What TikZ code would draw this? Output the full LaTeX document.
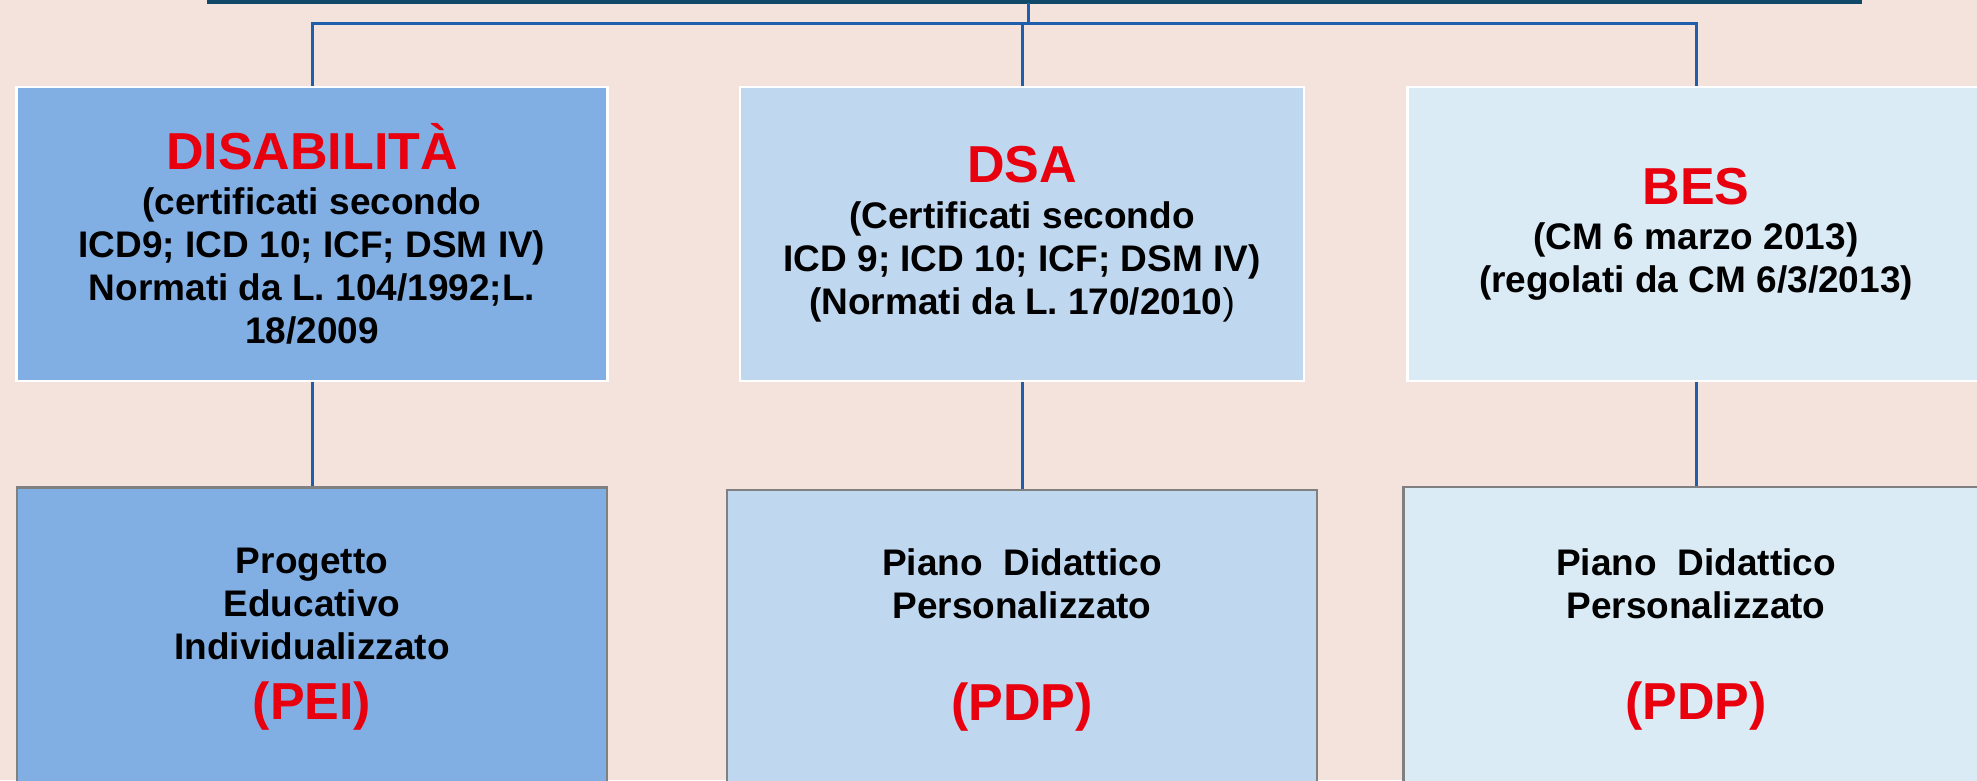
\documentclass[tikz,border=0pt]{standalone}
\usepackage{fontspec}
\setmainfont{Liberation Sans}

\definecolor{bgpink}{HTML}{F4E3DC}
\definecolor{disblue}{HTML}{82AFE3}
\definecolor{dsablue}{HTML}{C0D7F0}
\definecolor{besblue}{HTML}{DBEBF6}
\definecolor{linkblue}{HTML}{1E5EAA}
\definecolor{barteal}{HTML}{104868}
\definecolor{redtxt}{HTML}{E8000E}

\newcommand{\redtitle}[1]{{\color{redtxt}\fontsize{52}{52}\selectfont #1}}

\tikzset{
  catbox/.style={draw=white, line width=2.5pt, inner sep=0pt, align=center,
    minimum height=294pt, font=\fontsize{37}{43}\selectfont\bfseries},
  planbox/.style={draw=gray, line width=2.5pt, inner sep=0pt, align=center,
    font=\fontsize{37}{43}\selectfont\bfseries},
  link/.style={draw=linkblue, line width=3pt}
}

\begin{document}
\begin{tikzpicture}[x=1pt, y=-1pt]
      \useasboundingbox (0,0) rectangle (1977,780);
      \clip (0,0) rectangle (1977,780);
      \fill[bgpink] (0,0) rectangle (1977,780);

      % categories
      \node[catbox, fill=disblue, minimum width=591pt] (dis) at (312,234)
        {\redtitle{DISABILITÀ}\\[2pt](certificati secondo\\ICD9; ICD 10; ICF; DSM IV)\\Normati da L. 104/1992;L.\\18/2009};
      \node[catbox, fill=dsablue, minimum width=564pt] (dsa) at (1022,234)
        {\redtitle{DSA}\\[3pt](Certificati secondo\\ICD 9; ICD 10; ICF; DSM IV)\\ (Normati da L. 170/2010{\mdseries )}};
      \node[catbox, fill=besblue, minimum width=577pt] (bes) at (1696,234)
        {\redtitle{BES}\\[2pt](CM 6 marzo 2013)\\(regolati da CM 6/3/2013)};

      % plans
      \node[planbox, fill=disblue, minimum width=590pt, minimum height=303pt] (pei) at (312,639)
        {Progetto\\Educativo\\Individualizzato\\[17pt]\redtitle{(PEI)}};
      \node[planbox, fill=dsablue, minimum width=590pt, minimum height=300pt] (pdpa) at (1022,640)
        {Piano\ \ Didattico\\Personalizzato\\[59pt]\redtitle{(PDP)}};
      \node[planbox, fill=besblue, minimum width=585pt, minimum height=304pt] (pdpb) at (1696,639)
        {Piano\ \ Didattico\\Personalizzato\\[58pt]\redtitle{(PDP)}};

      % tree lines
      \coordinate (root) at (1028,3);
      \coordinate (joint) at (1028,23);
      \draw[draw=barteal, line width=3.5pt] (207,1.75) -- (1862,1.75);
      \draw[link] (root) -- (joint);
      \draw[link] (dis.north) |- (joint) -| (bes.north);
      \draw[link] (joint -| dsa.north) -- (dsa.north);
      \draw[link] (dis.south) -- (pei.north);
      \draw[link] (dsa.south) -- (pdpa.north);
      \draw[link] (bes.south) -- (pdpb.north);
\end{tikzpicture}
\end{document}
